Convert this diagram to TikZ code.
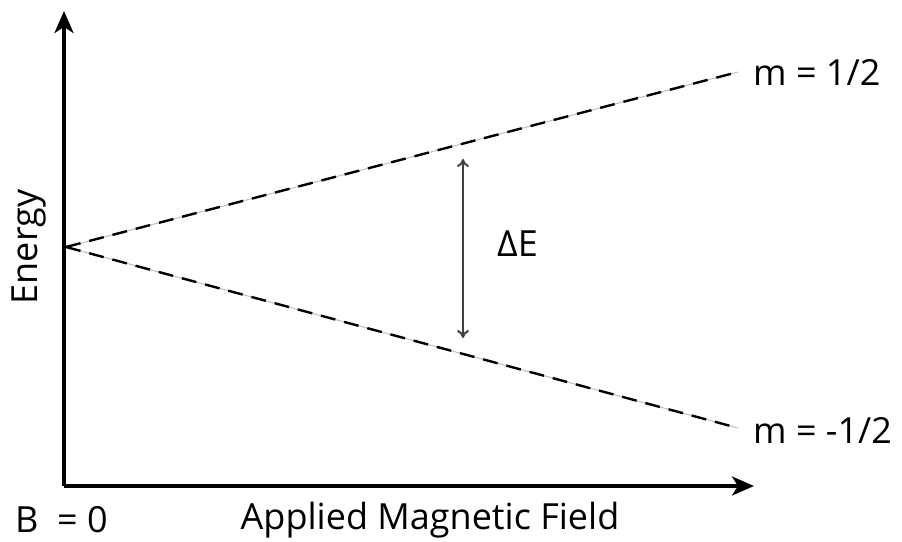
\documentclass[tikz,border=0pt]{standalone}
\usepackage{fontspec}
\setmainfont{Open Sans}
\usetikzlibrary{arrows.meta}
\begin{document}
\begin{tikzpicture}[x=1pt,y=1pt,
  axis/.style={line width=3.4pt,-{Stealth[length=22pt,width=19pt,inset=6pt]}},
  level/.style={line width=2.4pt,dash pattern=on 15pt off 9pt},
  levelbg/.style={line width=1pt,black!25},
  gap/.style={line width=2pt,black!75,{To[length=8pt,width=12pt]}-{To[length=8pt,width=12pt]}},
  lbl/.style={font=\fontsize{36}{42}\selectfont,inner sep=0pt}]
\useasboundingbox (0,0) rectangle (902,541);
\coordinate (O) at (64,55);
\coordinate (ytip) at (64,530);
\coordinate (xtip) at (754,55);
\coordinate (start) at (66,294);
\coordinate (up) at (738,469);
\coordinate (down) at (738,113);
\coordinate (ga) at (463,382);
\coordinate (gb) at (463,203);
\draw[levelbg] (start) -- (up);
\draw[levelbg] (start) -- (down);
\draw[level] (start) -- (up);
\draw[level] (start) -- (down);
\draw[axis] (O) -- (ytip);
\draw[axis] (O) -- (xtip);
\draw[gap] (ga) -- (gb);
\node[lbl,anchor=west] (mup) at (753,469) {m = 1/2};
\node[lbl,anchor=west] (mdown) at (753,111) {m = -1/2};
\node[lbl,anchor=west] (dE) at (497,297) {ΔE};
\node[lbl,rotate=90] (en) at (29,294) {Energy};
\node[lbl,anchor=west] (B) at (15,21) {B\ \ = 0};
\node[lbl] (field) at (430,21) {Applied Magnetic Field};
\end{tikzpicture}
\end{document}
